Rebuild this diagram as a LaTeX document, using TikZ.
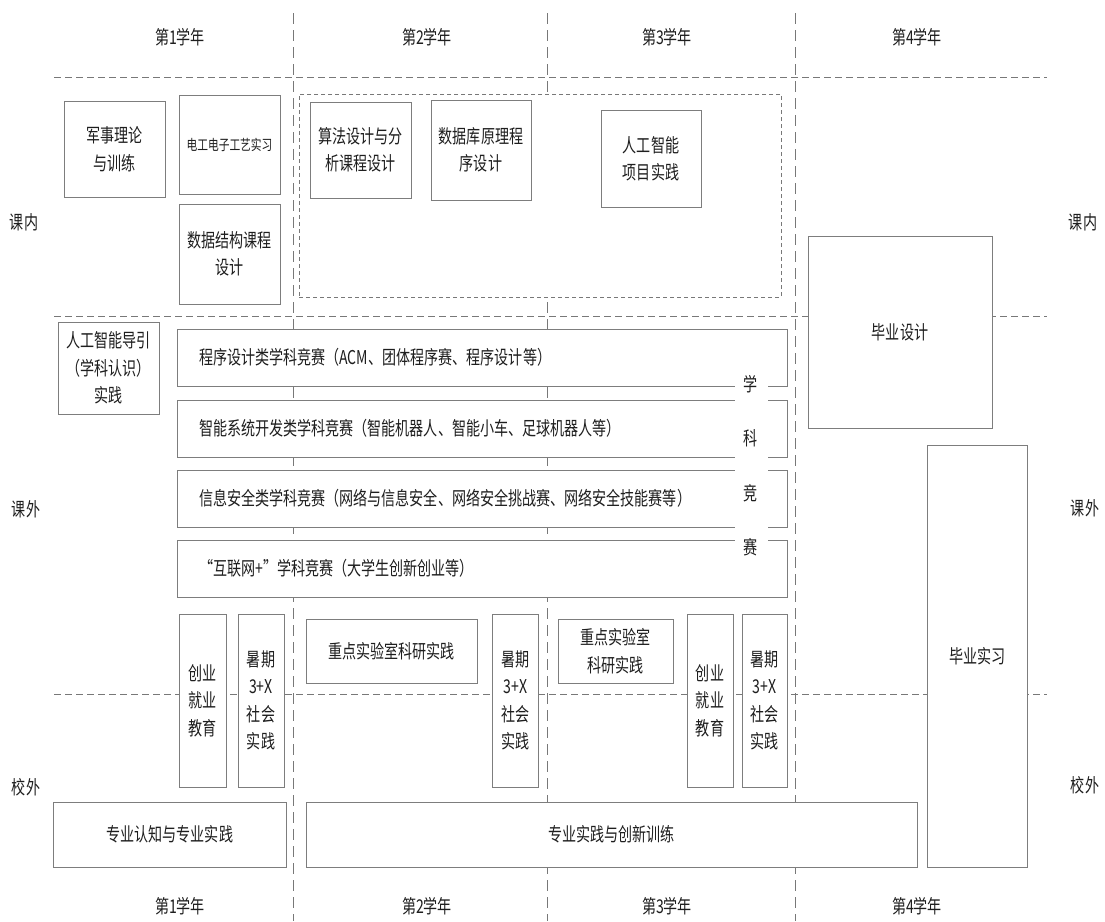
\documentclass[tikz,border=0pt]{standalone}
\usepackage{fontspec}
\setmainfont{Noto Sans CJK SC}[FakeStretch=0.74]
\definecolor{boxgray}{RGB}{125,125,125}
\definecolor{linegray}{RGB}{120,120,120}
\definecolor{txt}{RGB}{30,30,30}
\tikzset{
  box/.style={draw=boxgray, fill=white, line width=0.9pt, inner sep=0pt, align=center,
    text=txt, font=\fontsize{19}{27.5}\selectfont},
  hdash/.style={draw=linegray, line width=0.9pt, dash pattern=on 7pt off 4pt},
  vdash/.style={draw=linegray, line width=0.9pt, dash pattern=on 11pt off 6pt},
  lbl/.style={text=txt, font=\fontsize{19}{27.5}\selectfont, inner sep=0pt},
  compbox/.style={box, align=left, inner xsep=21.5pt, text width=567pt, minimum height=57pt}
}
\begin{document}
\begin{tikzpicture}[x=1pt,y=-1pt]
\useasboundingbox (0,0) rectangle (1105,921);
% grid lines
\coordinate (h1a) at (54,77);  \coordinate (h1b) at (1047,77);
\coordinate (h2a) at (54,316); \coordinate (h2b) at (1047,316);
\coordinate (h3a) at (54,694); \coordinate (h3b) at (1047,694);
\coordinate (v1a) at (293,13); \coordinate (v1b) at (293,921);
\coordinate (v2a) at (547,13); \coordinate (v2b) at (547,921);
\coordinate (v3a) at (795,13); \coordinate (v3b) at (795,921);
\draw[hdash] (h1a) -- (h1b);
\draw[hdash] (h2a) -- (h2b);
\draw[hdash] (h3a) -- (h3b);
\draw[vdash] (v1a) -- (v1b);
\draw[vdash] (v2a) -- (v2b);
\draw[vdash] (v3a) -- (v3b);
% labels
\node[lbl] (y1t) at (180,37) {第1学年};
\node[lbl] (y2t) at (427,37) {第2学年};
\node[lbl] (y3t) at (667,37) {第3学年};
\node[lbl] (y4t) at (917,37) {第4学年};
\node[lbl] (y1b) at (180,906) {第1学年};
\node[lbl] (y2b) at (427,906) {第2学年};
\node[lbl] (y3b) at (667,906) {第3学年};
\node[lbl] (y4b) at (917,906) {第4学年};
\node[lbl] (knl) at (24,222) {课内};
\node[lbl] (knr) at (1083,222) {课内};
\node[lbl] (kwl) at (26,509) {课外};
\node[lbl] (kwr) at (1085,508) {课外};
\node[lbl] (xwl) at (26,787) {校外};
\node[lbl] (xwr) at (1085,785) {校外};
% inner dashed region
\node[draw=linegray, fill=white, line width=0.8pt, dash pattern=on 4pt off 3pt,
  minimum width=482pt, minimum height=203pt, inner sep=0pt] (inner) at (540,195.5) {};
% course boxes
\node[box, minimum width=101pt, minimum height=96pt] (jszl) at (114.5,149) {军事理论\\与训练};
\node[box, minimum width=101pt, minimum height=99pt, font=\fontsize{14.5}{20}\selectfont] (dgdz) at (229.5,144.5) {电工电子工艺实习};
\node[box, minimum width=101pt, minimum height=100pt] (sjjg) at (229.5,254) {数据结构课程\\设计};
\node[box, minimum width=101pt, minimum height=96pt] (sfsj) at (360.5,150) {算法设计与分\\析课程设计};
\node[box, minimum width=100pt, minimum height=100pt] (sjk) at (481,150) {数据库原理程\\序设计};
\node[box, minimum width=100pt, minimum height=97pt] (rgzn) at (651,158.5) {人工智能\\项目实践};
\node[box, minimum width=184pt, minimum height=192pt] (bysj) at (900,332) {毕业设计};
\node[box, minimum width=101pt, minimum height=92pt] (dy) at (108.5,368) {人工智能导引\\（学科认识）\\实践};
% competitions
\node[compbox] (c1) at (482.5,357.5) {程序设计类学科竞赛（ACM、团体程序赛、程序设计等）};
\node[compbox] (c2) at (482.5,428.5) {智能系统开发类学科竞赛（智能机器人、智能小车、足球机器人等）};
\node[compbox] (c3) at (482.5,498.5) {信息安全类学科竞赛（网络与信息安全、网络安全挑战赛、网络安全技能赛等）};
\node[compbox] (c4) at (482.5,568.5) {“互联网+”学科竞赛（大学生创新创业等）};
\node[fill=white, inner sep=0pt, minimum width=33pt, minimum height=180pt, align=center,
  text=txt, font=\fontsize{19}{54.5}\selectfont] (xkjs) at (751,465.5) {学\\科\\竞\\赛};
% internships
\node[box, minimum width=100pt, minimum height=422pt] (byxx) at (977.5,656) {毕业实习};
\node[box, minimum width=47pt, minimum height=173pt] (cy1) at (202.5,700.5) {创业\\就业\\教育};
\node[box, minimum width=46pt, minimum height=173pt] (sq1) at (261,700.5) {暑期\\3+X\\社会\\实践};
\node[box, minimum width=171.5pt, minimum height=64pt] (zd2) at (391.75,651) {重点实验室科研实践};
\node[box, minimum width=46pt, minimum height=173pt] (sq2) at (515.5,700.5) {暑期\\3+X\\社会\\实践};
\node[box, minimum width=115pt, minimum height=64pt] (zd3) at (615.5,651) {重点实验室\\科研实践};
\node[box, minimum width=46pt, minimum height=173pt] (cy3) at (710,700.5) {创业\\就业\\教育};
\node[box, minimum width=45.5pt, minimum height=173pt] (sq3) at (764.75,700.5) {暑期\\3+X\\社会\\实践};
\node[box, minimum width=232.4pt, minimum height=65pt] (zyrz) at (169.8,834.5) {专业认知与专业实践};
\node[box, minimum width=611.5pt, minimum height=65pt] (zysj) at (611.75,834.5) {专业实践与创新训练};
\end{tikzpicture}
\end{document}
